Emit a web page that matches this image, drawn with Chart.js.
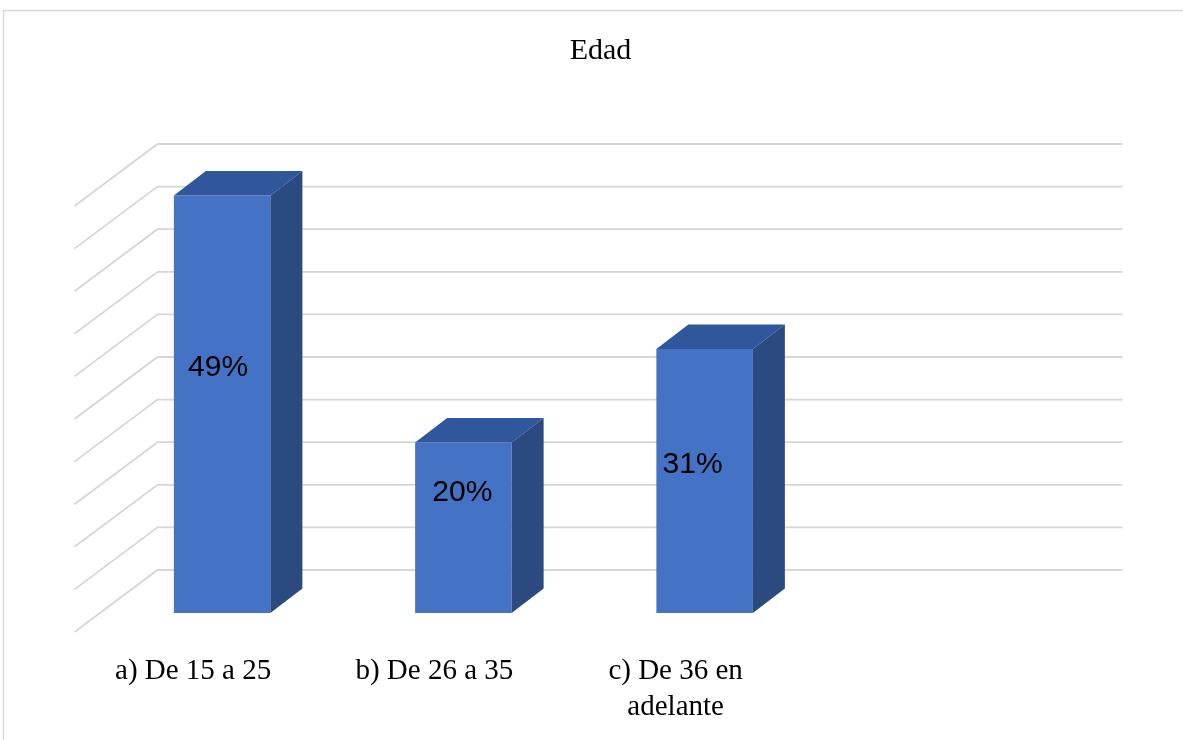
<!DOCTYPE html>
<html>
<head>
<meta charset="utf-8">
<title>Edad</title>
<script src="https://cdn.jsdelivr.net/npm/chart.js@4.4.1/dist/chart.umd.min.js"></script>
<style>
  html, body { margin: 0; padding: 0; background: #ffffff; }
  #wrap { position: relative; width: 1183px; height: 740px; }
</style>
</head>
<body>
<div id="wrap"><canvas id="chart"></canvas></div>
<script>
// Age groups and their share of respondents (percent)
const categories = ['a) De 15 a 25', 'b) De 26 a 35', ['c) De 36 en', 'adelante'], ''];
const shares = [49, 20, 31, null];

// Value axis: 0 – 50 % in steps of 5
const axisMin = 0;
const axisMax = 50;
const axisStep = 5;

// Oblique 3-D projection of the plot
const depth = {
  wallDx: 56, wallDy: -43,     // back wall relative to the bar front plane
  floorDx: -83, floorDy: 62,   // floor depth from back wall to front edge
  barDx: 32, barDy: -24.5      // thickness of each column
};

const colors = {
  front: '#4472C4',
  top: '#30569B',
  side: '#2A4A80',
  grid: '#d6d6d6',
  frame: '#d9d9d9'
};

const threeD = {
  id: 'threeD',
  beforeDraw(chart) {
    const ctx = chart.ctx;
    ctx.save();
    ctx.fillStyle = '#ffffff';
    ctx.fillRect(0, 0, chart.width, chart.height);
    // outer frame (top and left edges visible)
    ctx.strokeStyle = colors.frame;
    ctx.lineWidth = 1.5;
    ctx.beginPath();
    ctx.moveTo(3.5, chart.height + 2);
    ctx.lineTo(3.5, 10.5);
    ctx.lineTo(chart.width + 2, 10.5);
    ctx.stroke();
    ctx.restore();
  },
  beforeDatasetsDraw(chart) {
    const ctx = chart.ctx;
    const y = chart.scales.y;
    const area = chart.chartArea;
    const wl = area.left + depth.wallDx;
    const wr = area.right + depth.wallDx;
    ctx.save();
    ctx.strokeStyle = colors.grid;
    ctx.lineWidth = 1.8;
    for (let v = axisMin; v <= axisMax; v += axisStep) {
      const py = y.getPixelForValue(v) + depth.wallDy;
      ctx.beginPath();
      ctx.moveTo(wl + depth.floorDx, py + depth.floorDy);
      ctx.lineTo(wl, py);
      ctx.lineTo(wr, py);
      ctx.stroke();
    }
    ctx.restore();
  },
  afterDatasetsDraw(chart, args, opts) {
    const ctx = chart.ctx;
    const meta = chart.getDatasetMeta(0);
    ctx.save();
    meta.data.forEach((bar, i) => {
      const v = chart.data.datasets[0].data[i];
      if (v === null || v === undefined) return;
      const p = bar.getProps(['x', 'y', 'base', 'width'], true);
      const x1 = p.x - p.width / 2;
      const x2 = p.x + p.width / 2;
      const dx = depth.barDx, dy = depth.barDy;
      // top face
      ctx.fillStyle = colors.top;
      ctx.beginPath();
      ctx.moveTo(x1, p.y);
      ctx.lineTo(x1 + dx, p.y + dy);
      ctx.lineTo(x2 + dx, p.y + dy);
      ctx.lineTo(x2, p.y);
      ctx.closePath();
      ctx.fill();
      // right side face
      ctx.fillStyle = colors.side;
      ctx.beginPath();
      ctx.moveTo(x2, p.y);
      ctx.lineTo(x2 + dx, p.y + dy);
      ctx.lineTo(x2 + dx, p.base + dy);
      ctx.lineTo(x2, p.base);
      ctx.closePath();
      ctx.fill();
      // value label
      const nudge = opts.labelNudge[i] || [0, 0];
      ctx.fillStyle = '#000000';
      ctx.font = '30px "Liberation Sans", Arial, sans-serif';
      ctx.textAlign = 'center';
      ctx.textBaseline = 'middle';
      ctx.fillText(v + '%', p.x + nudge[0], (p.y + p.base) / 2 + nudge[1]);
    });
    ctx.restore();
  }
};

new Chart(document.getElementById('chart'), {
  type: 'bar',
  data: {
    labels: categories,
    datasets: [{
      data: shares,
      backgroundColor: colors.front,
      borderWidth: 0,
      barPercentage: 0.4,
      categoryPercentage: 1.0
    }]
  },
  options: {
    responsive: true,
    maintainAspectRatio: false,
    animation: false,
    layout: { padding: { left: 18, right: 0, top: 0, bottom: 0 } },
    plugins: {
      legend: { display: false },
      tooltip: { enabled: false },
      title: {
        display: true,
        text: 'Edad',
        color: '#000000',
        font: { family: '"Liberation Serif", "Times New Roman", serif', size: 30, weight: 'normal', lineHeight: 1.2 },
        padding: { top: 33, bottom: 118 }
      },
      threeD: {
        labelNudge: [[-4, -37], [-1, -35], [-12, -16]]
      }
    },
    scales: {
      x: {
        grid: { display: false, drawTicks: false },
        border: { display: false },
        ticks: {
          color: '#000000',
          padding: 40,
          labelOffset: -29,
          maxRotation: 0,
          autoSkip: false,
          font: { family: '"Liberation Serif", "Times New Roman", serif', size: 29, lineHeight: 1.24 }
        },
        afterFit(scale) { scale.height = 127; }
      },
      y: {
        min: axisMin,
        max: axisMax,
        grid: { display: false, drawTicks: false },
        border: { display: false },
        ticks: { display: false, stepSize: axisStep },
        afterFit(scale) { scale.width = 83.5; }
      },
      yRight: {
        position: 'right',
        min: axisMin,
        max: axisMax,
        grid: { display: false, drawTicks: false },
        border: { display: false },
        ticks: { display: false },
        afterFit(scale) { scale.width = 116.5; }
      }
    }
  },
  plugins: [threeD]
});
</script>
</body>
</html>
